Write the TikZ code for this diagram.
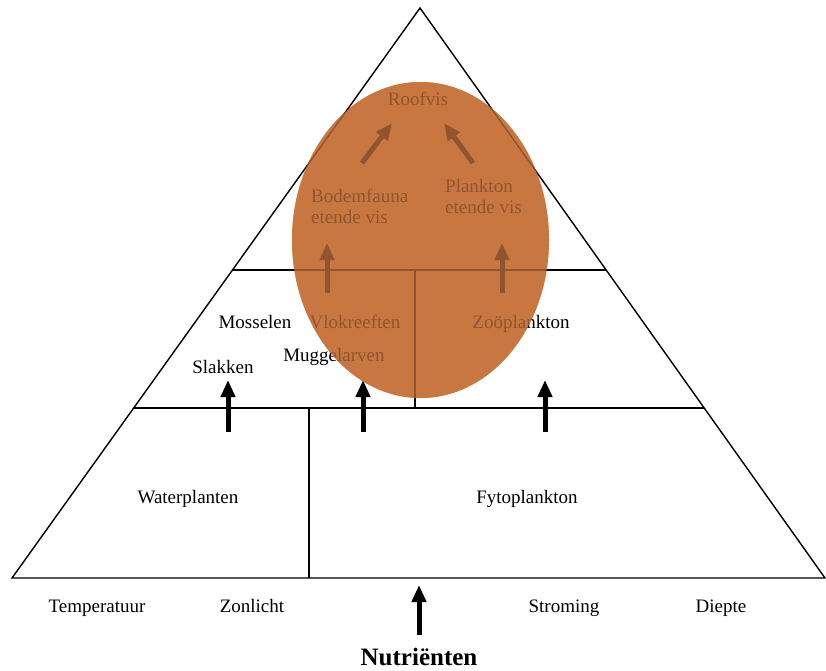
\documentclass[tikz,border=0pt]{standalone}
\usepackage{fontspec}
\setmainfont{Liberation Serif}
\usetikzlibrary{arrows.meta,calc}
\definecolor{roest}{RGB}{200,119,65}
\tikzset{
  lijn/.style={line width=1.4pt},
  pijl/.style={line width=5pt,-{Triangle[width=14pt,length=17pt]}},
  lbl/.style={font=\fontsize{19}{21}\selectfont,inner sep=0pt,anchor=base},
  factor/.style={font=\fontsize{19}{21}\selectfont,inner sep=0pt,anchor=base},
}
\begin{document}
\begin{tikzpicture}[x=1pt,y=-1pt]
    \useasboundingbox (0,0) rectangle (826,670);
    % Food web ellipse (base layer)
    \fill[roest] (420.5,240) ellipse (128.5 and 158);
    % Pyramid outline
    \coordinate (top) at (420,8);
    \coordinate (bl) at (12,578);
    \coordinate (br) at (825,578);
    \draw[lijn,line join=miter] (bl) -- (top) -- (br) -- cycle;
    % Levels
    \draw[lijn] ($(top)!0.4596!(bl)$) -- ($(top)!0.4596!(br)$);
    \draw[lijn] ($(top)!0.7018!(bl)$) -- ($(top)!0.7018!(br)$);
    \draw[lijn] (415,270) -- (415,408);
    \draw[lijn] (309,408) -- (309,578);
    % Arrows between levels
    \foreach \x in {228,363,545}
        \draw[pijl] (\x,432) -- (\x,380);
    \foreach \x in {327,502}
        \draw[pijl] (\x,293) -- (\x,243);
    \draw[pijl] (362,163) -- (392,123);
    \draw[pijl] (473,163) -- (444,123);
    \draw[pijl] (419,635) -- (419,585);
    % Labels
    \node[lbl] (roofvis) at (418,105) {Roofvis};
    \node[lbl,anchor=base west,align=left] (bodem) at (311,223) {Bodemfauna\\etende vis};
    \node[lbl,anchor=base west,align=left] (plankvis) at (445,213) {Plankton\\etende vis};
    \node[lbl] (mosselen) at (255,328) {Mosselen};
    \node[lbl] (vlok) at (355,328) {Vlokreeften};
    \node[lbl] (zoo) at (521,328) {Zoöplankton};
    \node[lbl] (muggen) at (334,361) {Muggelarven};
    \node[lbl] (slakken) at (223,373) {Slakken};
    \node[lbl] (water) at (188,503) {Waterplanten};
    \node[lbl] (fyto) at (527,503) {Fytoplankton};
    % Outside factors
    \node[factor] (temp) at (97,612) {Temperatuur};
    \node[factor] (zon) at (252,612) {Zonlicht};
    \node[factor] (stroming) at (564,612) {Stroming};
    \node[factor] (diepte) at (721,612) {Diepte};
    \node[font=\fontsize{25}{27}\selectfont\bfseries,inner sep=0pt,anchor=base] (nutr) at (419,665) {Nutriënten};
    % Ellipse overlay
    \fill[roest,fill opacity=0.72] (420.5,240) ellipse (128.5 and 158);
\end{tikzpicture}
\end{document}
